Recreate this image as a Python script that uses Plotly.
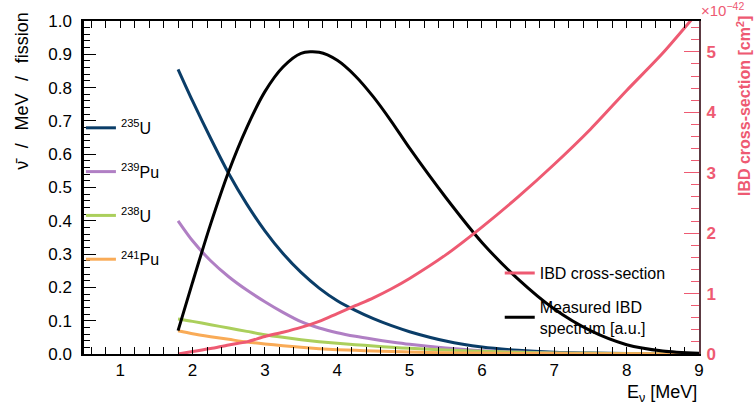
import plotly.graph_objects as go

# ---------------- data ----------------
energy = [1.8, 2.0, 2.25, 2.5, 2.75, 3.0, 3.25, 3.5, 3.75, 4.0, 4.25, 4.5, 4.75,
          5.0, 5.5, 6.0, 6.5, 7.0, 7.5, 8.0, 8.5, 9.0]

flux_u235 = [0.855, 0.76, 0.648, 0.542, 0.45, 0.37, 0.302, 0.245, 0.198, 0.16, 0.131,
             0.106, 0.085, 0.067, 0.039, 0.021, 0.011, 0.0055, 0.003, 0.0015, 0.0008, 0.0004]
flux_pu239 = [0.40, 0.34, 0.28, 0.232, 0.192, 0.157, 0.125, 0.097, 0.078, 0.064, 0.053,
              0.044, 0.036, 0.029, 0.018, 0.010, 0.0058, 0.0032, 0.0018, 0.001, 0.0005, 0.0003]
flux_u238 = [0.105, 0.098, 0.088, 0.078, 0.068, 0.058, 0.050, 0.043, 0.037, 0.032, 0.028,
             0.024, 0.020, 0.017, 0.012, 0.008, 0.005, 0.003, 0.002, 0.0012, 0.0007, 0.0004]
flux_pu241 = [0.07, 0.061, 0.052, 0.044, 0.036, 0.030, 0.025, 0.020, 0.016, 0.013, 0.011,
              0.009, 0.0075, 0.006, 0.004, 0.0027, 0.0018, 0.0012, 0.0008, 0.0005, 0.0003, 0.0002]
measured_ibd = [0.07, 0.215, 0.39, 0.548, 0.68, 0.788, 0.862, 0.903, 0.906, 0.882, 0.835,
                0.772, 0.698, 0.618, 0.47, 0.335, 0.225, 0.135, 0.07, 0.028, 0.009, 0.002]
ibd_xsec_1e42 = [0.0, 0.04, 0.09, 0.15, 0.2, 0.29, 0.36, 0.44, 0.54, 0.67, 0.8,
                 0.93, 1.08, 1.25, 1.64, 2.1, 2.6, 3.14, 3.72, 4.36, 4.98, 5.68]

isotope_names = ["<sup>235</sup>U", "<sup>239</sup>Pu", "<sup>238</sup>U", "<sup>241</sup>Pu"]
isotope_series = [flux_u235, flux_pu239, flux_u238, flux_pu241]
isotope_colors = ["#0a3d68", "#b07fc4", "#abcf5c", "#f9ab57"]
pink = "#ee5a72"

x_ticks = [1, 2, 3, 4, 5, 6, 7, 8, 9]

FONT = "Liberation Sans, Arial, Helvetica, sans-serif"
LINE_SHAPE = dict(width=3, shape="spline", smoothing=0.8)

fig = go.Figure()

for name, vals, col in zip(isotope_names, isotope_series, isotope_colors):
    fig.add_trace(go.Scatter(
        x=energy, y=vals, mode="lines", name=name,
        line=dict(color=col, **LINE_SHAPE),
        legend="legend", legendgroup=name,
    ))

fig.add_trace(go.Scatter(
    x=energy, y=ibd_xsec_1e42, mode="lines", name="IBD cross-section",
    line=dict(color=pink, **LINE_SHAPE),
    yaxis="y2", legend="legend2", legendgroup="ibd",
))
fig.add_trace(go.Scatter(
    x=energy, y=measured_ibd, mode="lines", name="Measured IBD<br>spectrum [a.u.]",
    line=dict(color="black", **LINE_SHAPE),
    legend="legend2", legendgroup="meas",
))

fig.update_layout(
    width=755, height=408,
    margin=dict(l=84, r=56, t=15, b=54),
    paper_bgcolor="white", plot_bgcolor="white",
    font=dict(family=FONT, color="black", size=16),
    xaxis=dict(
        range=[0.5, 9], tickvals=x_ticks, ticks="inside", ticklen=7, tickwidth=1,
        tickcolor="black",
        minor=dict(dtick=0.2, tick0=0, ticks="inside", ticklen=4, tickcolor="black", showgrid=False),
        showline=True, linewidth=2, linecolor="black", mirror="allticks",
        showgrid=False, zeroline=False,
        tickfont=dict(size=17, family=FONT), ticklabelstandoff=0,
    ),
    yaxis=dict(
        range=[0, 1], dtick=0.1, tick0=0, tickformat=".1f", ticks="inside", ticklen=12,
        tickwidth=1, tickcolor="black",
        minor=dict(dtick=0.02, tick0=0, ticks="inside", ticklen=6, tickcolor="black", showgrid=False),
        showline=True, linewidth=2.5, linecolor="black", mirror=False,
        showgrid=False, zeroline=False,
        tickfont=dict(size=17, family=FONT), ticklabelstandoff=6,
    ),
    yaxis2=dict(
        overlaying="y", side="right", range=[0, 5.51], dtick=1, tick0=0,
        ticks="inside", ticklen=15, tickwidth=1, tickcolor=pink,
        minor=dict(dtick=0.2, tick0=0, ticks="inside", ticklen=8, tickcolor=pink, showgrid=False),
        showline=True, linewidth=2, linecolor="#5c3a42",
        showgrid=False, zeroline=False,
        tickfont=dict(size=17, family=FONT, color=pink, weight="bold"), ticklabelstandoff=2,
    ),
    legend=dict(
        x=-0.005, y=0.73, xanchor="left", yanchor="top", bgcolor="rgba(0,0,0,0)",
        font=dict(size=16, family=FONT), itemwidth=30, tracegroupgap=20,
        traceorder="grouped",
    ),
    legend2=dict(
        x=0.676, y=0.294, xanchor="left", yanchor="top", bgcolor="rgba(0,0,0,0)",
        font=dict(size=16, family=FONT), itemwidth=30, tracegroupgap=10,
        traceorder="grouped",
    ),
    showlegend=True,
    annotations=[
        dict(text="E<sub>ν</sub> [MeV]", xref="paper", yref="paper", x=1.0, y=-0.118,
             xanchor="right", yanchor="middle", showarrow=False, font=dict(size=18, family=FONT)),
        dict(text="ν̄\u2002\u2009/\u2002\u2009MeV\u2002\u2009/\u2002\u2009fission",
             xref="paper", yref="paper",
             x=-0.102, y=1.03, xanchor="center", yanchor="top", textangle=-90,
             showarrow=False, font=dict(size=18, family=FONT)),
        dict(text="IBD cross-section [cm<sup>2</sup>]", xref="paper", yref="paper",
             x=1.073, y=1.025, xanchor="center", yanchor="top", textangle=-90,
             showarrow=False, font=dict(size=16, family=FONT, color=pink, weight="bold")),
        dict(text="×10<sup>−42</sup>", xref="paper", yref="paper", x=1.0, y=1.0,
             xanchor="left", yanchor="bottom", showarrow=False,
             font=dict(size=15, family=FONT, color=pink)),
    ],
)

fig.write_html("out.html")
